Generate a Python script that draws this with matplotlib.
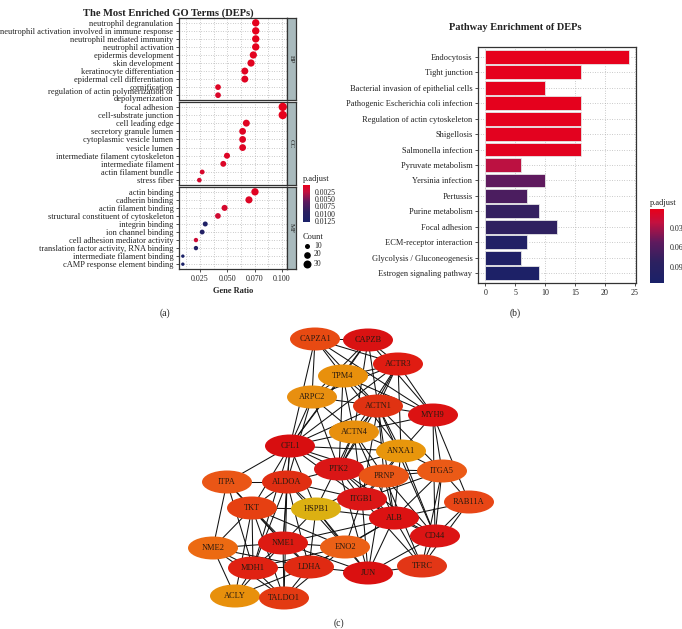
import matplotlib
matplotlib.use('Agg')
import matplotlib.pyplot as plt
from matplotlib.colors import LinearSegmentedColormap, Normalize
from matplotlib.patches import Ellipse
import matplotlib.colorbar as mcb

plt.rcParams['font.family'] = ['Liberation Serif', 'DejaVu Serif']

W, H = 682, 629

# ---------------- (a) GO terms ----------------
bp_terms = ['neutrophil degranulation', 'neutrophil activation involved in immune response',
            'neutrophil mediated immunity', 'neutrophil activation', 'epidermis development',
            'skin development', 'keratinocyte differentiation', 'epidermal cell differentiation',
            'cornification', 'regulation of actin polymerization or\ndepolymerization']
bp_ratio = [0.076, 0.076, 0.076, 0.076, 0.0738, 0.0717, 0.066, 0.066, 0.0415, 0.0415]
bp_count = [25, 25, 25, 25, 24, 24, 22, 22, 14, 14]
bp_padj = [0.0005, 0.0005, 0.0005, 0.0005, 0.0006, 0.0007, 0.0008, 0.0008, 0.0010, 0.0012]

cc_terms = ['focal adhesion', 'cell-substrate junction', 'cell leading edge',
            'secretory granule lumen', 'cytoplasmic vesicle lumen', 'vesicle lumen',
            'intermediate filament cytoskeleton', 'intermediate filament',
            'actin filament bundle', 'stress fiber']
cc_ratio = [0.1007, 0.1007, 0.0674, 0.064, 0.064, 0.064, 0.0497, 0.0463, 0.027, 0.0244]
cc_count = [33, 33, 22, 21, 21, 21, 16, 15, 9, 8]
cc_padj = [0.0004, 0.0004, 0.0008, 0.0009, 0.0009, 0.0009, 0.0010, 0.0011, 0.0014, 0.0016]

mf_terms = ['actin binding', 'cadherin binding', 'actin filament binding',
            'structural constituent of cytoskeleton', 'integrin binding', 'ion channel binding',
            'cell adhesion mediator activity', 'translation factor activity, RNA binding',
            'intermediate filament binding', 'cAMP response element binding']
mf_ratio = [0.0753, 0.0698, 0.0475, 0.0414, 0.0298, 0.027, 0.0213, 0.0213, 0.0093, 0.0093]
mf_count = [25, 23, 16, 14, 10, 9, 7, 7, 3, 3]
mf_padj = [0.0008, 0.0010, 0.0015, 0.0018, 0.0115, 0.0110, 0.0020, 0.0112, 0.0125, 0.0125]

ratio_ticks = [0.025, 0.050, 0.075, 0.100]
ratio_ticklabels = ['0.025', '0.050', '0.070', '0.100']
padj_a_ticks = [0.0025, 0.0050, 0.0075, 0.0100, 0.0125]
count_legend = [10, 20, 30]

# ---------------- (b) KEGG pathways ----------------
pathways = ['Endocytosis', 'Tight junction', 'Bacterial invasion of epithelial cells',
            'Pathogenic Escherichia coli infection', 'Regulation of actin cytoskeleton',
            'Shigellosis', 'Salmonella infection', 'Pyruvate metabolism', 'Yersinia infection',
            'Pertussis', 'Purine metabolism', 'Focal adhesion', 'ECM-receptor interaction',
            'Glycolysis / Gluconeogenesis', 'Estrogen signaling pathway']
path_count = [24, 16, 10, 16, 16, 16, 16, 6, 10, 7, 9, 12, 7, 6, 9]
path_padj = [0.002, 0.003, 0.003, 0.003, 0.003, 0.004, 0.004, 0.024, 0.052, 0.064,
             0.078, 0.081, 0.101, 0.104, 0.109]
padj_b_ticks = [0.03, 0.06, 0.09]

# ---------------- (c) PPI network ----------------
nodes = ['CAPZA1', 'CAPZB', 'ACTR3', 'TPM4', 'ARPC2', 'ACTN1', 'MYH9', 'ACTN4', 'CFL1',
         'ANXA1', 'PTK2', 'PRNP', 'ITGA5', 'ITPA', 'ALDOA', 'ITGB1', 'RAB11A', 'TKT',
         'HSPB1', 'ALB', 'CD44', 'NME2', 'NME1', 'ENO2', 'MDH1', 'LDHA', 'JUN', 'TFRC',
         'ACLY', 'TALDO1']
node_x = [315, 368, 398, 343, 312, 378, 433, 354, 290, 401, 339, 384, 442, 227, 287,
          362, 469, 252, 316, 394, 435, 213, 283, 345, 253, 309, 368, 422, 235, 284]
node_y = [339, 340, 364, 376, 397, 406, 415, 432, 446, 451, 469, 476, 471, 482, 482,
          499, 502, 508, 509, 518, 536, 548, 543, 547, 568, 567, 573, 566, 596, 598]
node_colors = ['#e84a12', '#d91212', '#e01c12', '#e8900c', '#e88f10', '#e03212', '#dc1212',
               '#e8900e', '#d80e10', '#e8960c', '#da1616', '#ea5616', '#eb5a16', '#ea5616',
               '#e02e12', '#db1616', '#e84616', '#e64012', '#dcb012', '#dc1212', '#dc1414',
               '#ec6a12', '#dd1a12', '#eb6016', '#e02212', '#e02a12', '#da1010', '#e23616',
               '#e8900c', '#e33a12']
edges = [
    ('CAPZA1', 'CAPZB'), ('CAPZA1', 'ARPC2'), ('CAPZA1', 'CFL1'), ('CAPZA1', 'TPM4'),
    ('CAPZA1', 'ACTR3'), ('CAPZA1', 'ACTN1'), ('CAPZA1', 'MYH9'),
    ('CAPZB', 'TPM4'), ('CAPZB', 'ACTN1'), ('CAPZB', 'ACTR3'), ('CAPZB', 'ARPC2'),
    ('CAPZB', 'ACTN4'), ('CAPZB', 'CFL1'), ('CAPZB', 'MYH9'),
    ('ACTR3', 'TPM4'), ('ACTR3', 'ARPC2'), ('ACTR3', 'ACTN1'), ('ACTR3', 'ACTN4'),
    ('ACTR3', 'MYH9'), ('ACTR3', 'CFL1'), ('ACTR3', 'PTK2'), ('ACTR3', 'ANXA1'),
    ('TPM4', 'ACTN1'), ('TPM4', 'ARPC2'), ('TPM4', 'ACTN4'), ('TPM4', 'CFL1'),
    ('TPM4', 'MYH9'), ('TPM4', 'ANXA1'), ('TPM4', 'PTK2'),
    ('ARPC2', 'CFL1'), ('ARPC2', 'ACTN1'), ('ARPC2', 'ACTN4'), ('ARPC2', 'PTK2'),
    ('ARPC2', 'ALDOA'),
    ('ACTN1', 'MYH9'), ('ACTN1', 'ACTN4'), ('ACTN1', 'CFL1'), ('ACTN1', 'PTK2'),
    ('ACTN1', 'ANXA1'), ('ACTN1', 'ITGB1'), ('ACTN1', 'PRNP'), ('ACTN1', 'ITGA5'),
    ('ACTN1', 'ALB'), ('ACTN1', 'CD44'),
    ('MYH9', 'ACTN4'), ('MYH9', 'ITGA5'), ('MYH9', 'ANXA1'), ('MYH9', 'CD44'),
    ('MYH9', 'RAB11A'),
    ('ACTN4', 'CFL1'), ('ACTN4', 'ANXA1'), ('ACTN4', 'PTK2'), ('ACTN4', 'PRNP'),
    ('ACTN4', 'ITGB1'), ('ACTN4', 'ALB'), ('ACTN4', 'HSPB1'),
    ('CFL1', 'PTK2'), ('CFL1', 'ALDOA'), ('CFL1', 'ANXA1'), ('CFL1', 'ITGB1'),
    ('CFL1', 'TKT'), ('CFL1', 'ITPA'), ('CFL1', 'NME1'), ('CFL1', 'HSPB1'),
    ('CFL1', 'MDH1'), ('CFL1', 'PRNP'),
    ('ANXA1', 'PRNP'), ('ANXA1', 'ITGA5'), ('ANXA1', 'ALB'), ('ANXA1', 'CD44'),
    ('ANXA1', 'ITGB1'), ('ANXA1', 'PTK2'),
    ('PTK2', 'PRNP'), ('PTK2', 'ITGB1'), ('PTK2', 'ALDOA'), ('PTK2', 'ITGA5'),
    ('PTK2', 'JUN'), ('PTK2', 'CD44'), ('PTK2', 'ALB'),
    ('PRNP', 'ITGB1'), ('PRNP', 'ALB'), ('PRNP', 'CD44'), ('PRNP', 'HSPB1'),
    ('PRNP', 'ITGA5'), ('PRNP', 'TFRC'), ('PRNP', 'JUN'),
    ('ITGA5', 'ITGB1'), ('ITGA5', 'ALB'), ('ITGA5', 'CD44'), ('ITGA5', 'RAB11A'),
    ('ITGA5', 'TFRC'),
    ('ITPA', 'ALDOA'), ('ITPA', 'TKT'), ('ITPA', 'NME1'), ('ITPA', 'NME2'),
    ('ITPA', 'MDH1'),
    ('ALDOA', 'TKT'), ('ALDOA', 'NME1'), ('ALDOA', 'HSPB1'), ('ALDOA', 'ENO2'),
    ('ALDOA', 'LDHA'), ('ALDOA', 'MDH1'), ('ALDOA', 'TALDO1'), ('ALDOA', 'ITGB1'),
    ('ITGB1', 'ALB'), ('ITGB1', 'CD44'), ('ITGB1', 'HSPB1'), ('ITGB1', 'JUN'),
    ('ITGB1', 'TFRC'), ('ITGB1', 'ENO2'),
    ('RAB11A', 'CD44'), ('RAB11A', 'TFRC'), ('RAB11A', 'ALB'),
    ('TKT', 'NME1'), ('TKT', 'NME2'), ('TKT', 'MDH1'), ('TKT', 'LDHA'),
    ('TKT', 'TALDO1'), ('TKT', 'ACLY'), ('TKT', 'HSPB1'), ('TKT', 'ENO2'),
    ('HSPB1', 'ALB'), ('HSPB1', 'NME1'), ('HSPB1', 'ENO2'), ('HSPB1', 'JUN'),
    ('HSPB1', 'LDHA'),
    ('ALB', 'CD44'), ('ALB', 'JUN'), ('ALB', 'TFRC'), ('ALB', 'ENO2'),
    ('ALB', 'LDHA'), ('ALB', 'NME1'),
    ('CD44', 'JUN'), ('CD44', 'TFRC'),
    ('NME2', 'NME1'), ('NME2', 'MDH1'), ('NME2', 'ACLY'), ('NME2', 'LDHA'),
    ('NME2', 'TALDO1'),
    ('NME1', 'ENO2'), ('NME1', 'MDH1'), ('NME1', 'LDHA'), ('NME1', 'TALDO1'),
    ('NME1', 'ACLY'), ('NME1', 'JUN'),
    ('ENO2', 'LDHA'), ('ENO2', 'JUN'), ('ENO2', 'MDH1'), ('ENO2', 'TALDO1'),
    ('MDH1', 'LDHA'), ('MDH1', 'ACLY'), ('MDH1', 'TALDO1'),
    ('LDHA', 'JUN'), ('LDHA', 'TALDO1'), ('LDHA', 'ACLY'),
    ('JUN', 'TFRC'), ('ACLY', 'TALDO1'),
]

cmap = LinearSegmentedColormap.from_list(
    'padj', [(0, '#e8001a'), (0.18, '#c4103f'), (0.45, '#5e1a5e'),
             (0.72, '#2c2160'), (1, '#1a2169')])
TXT = '#222222'
FRAME = '#333333'
GRID = dict(color='#9a9a9a', lw=0.5, ls=(0, (1, 2.5)))


def box(x0, y0, x1, y1):
    return [x0 / W, 1 - y1 / H, (x1 - x0) / W, (y1 - y0) / H]


def dot_size(c):
    return 3 + 1.0 * c


fig = plt.figure(figsize=(W / 100, H / 100), dpi=100)

# overlay in pixel coordinates: network + legend bits
ov = fig.add_axes([0, 0, 1, 1])
ov.set_xlim(0, W)
ov.set_ylim(H, 0)
ov.axis('off')

# ---- panel (a)
norm_a = Normalize(0.0003, 0.0127)
facets = [('BP', bp_terms, bp_ratio, bp_count, bp_padj, 18, 100),
          ('CC', cc_terms, cc_ratio, cc_count, cc_padj, 102, 185),
          ('MF', mf_terms, mf_ratio, mf_count, mf_padj, 187, 269)]
for k, (name, terms, ratio, count, padj, top, bot) in enumerate(facets):
    ax = fig.add_axes(box(179, top, 287, bot))
    ax.scatter(ratio, range(len(terms)), s=[dot_size(c) for c in count], c=padj,
               cmap=cmap, norm=norm_a, linewidths=0, zorder=3)
    ax.set_xlim(0.0058, 0.1046)
    ax.set_ylim(len(terms) - 0.4, -0.6)
    ax.set_yticks(range(len(terms)))
    ax.set_yticklabels(terms, fontsize=6.0, color=TXT, linespacing=0.85)
    ax.set_xticks(ratio_ticks)
    ax.set_xticks([0.0125, 0.0375, 0.0625, 0.0875], minor=True)
    ax.grid(which='both', axis='x', **GRID)
    ax.grid(which='major', axis='y', **GRID)
    ax.tick_params(axis='y', length=2.5, width=0.6, pad=1.5, color=FRAME)
    ax.tick_params(axis='x', which='minor', length=0)
    if k < 2:
        ax.tick_params(axis='x', length=0, labelbottom=False)
    else:
        ax.set_xticklabels(ratio_ticklabels, fontsize=5.8, color=TXT)
        ax.tick_params(axis='x', length=2.5, width=0.6, pad=2, color=FRAME)
        ax.set_xlabel('Gene Ratio', fontsize=6, fontweight='bold', labelpad=3, color=TXT)
    for s in ax.spines.values():
        s.set_color(FRAME)
        s.set_linewidth(0.9)
    st = fig.add_axes(box(287, top, 296, bot))
    st.set_facecolor('#a9babd')
    st.set_xticks([])
    st.set_yticks([])
    for s in st.spines.values():
        s.set_color(FRAME)
        s.set_linewidth(0.9)
    st.text(0.5, 0.5, name, rotation=-90, ha='center', va='center', fontsize=5,
            color=TXT, transform=st.transAxes)

fig.text(168 / W, 1 - 13 / H, 'The Most Enriched GO Terms (DEPs)', ha='center',
         va='center', fontsize=7.6, fontweight='bold', color=TXT)

cax_a = fig.add_axes(box(303, 185, 310, 222))
cb_a = mcb.ColorbarBase(cax_a, cmap=cmap, norm=norm_a, orientation='vertical')
cax_a.invert_yaxis()
cb_a.set_ticks(padj_a_ticks)
cb_a.set_ticklabels(['%.4f' % t for t in padj_a_ticks])
cb_a.outline.set_visible(False)
cax_a.tick_params(length=1.5, width=0.5, color='white', labelsize=5.6, pad=2,
                  labelcolor=TXT)
ov.text(303, 179, 'p.adjust', fontsize=6, ha='left', va='center', color=TXT)

ov.text(303, 237, 'Count', fontsize=6, ha='left', va='center', color=TXT)
for c, yy in zip(count_legend, [246, 254.5, 263.5]):
    ov.scatter([307], [yy], s=dot_size(c), color='black', linewidths=0)
    ov.text(314, yy, str(c), fontsize=5.6, ha='left', va='center', color=TXT)

ov.text(165, 313, '(a)', fontsize=7, ha='center', va='center', color=TXT)

# ---- panel (b)
norm_b = Normalize(0.001, 0.115)
axb = fig.add_axes(box(478, 47, 636, 283))
yb = list(range(len(pathways)))
axb.barh(yb, path_count, height=0.9, color=cmap(norm_b(path_padj)),
         edgecolor='#e6e6e6', linewidth=0.6, zorder=3)
axb.set_xlim(-1.22, 25.2)
axb.set_ylim(len(pathways) - 0.37, -0.63)
axb.set_yticks(yb)
axb.set_yticklabels(pathways, fontsize=6.0, color=TXT)
axb.set_xticks([0, 5, 10, 15, 20, 25])
axb.tick_params(axis='x', labelsize=5.8, length=2.5, width=0.6, pad=2, color=FRAME,
                labelcolor=TXT)
axb.tick_params(axis='y', length=2.5, width=0.6, pad=1.5, color=FRAME)
axb.grid(axis='both', **GRID)
for s in axb.spines.values():
    s.set_color(FRAME)
    s.set_linewidth(0.9)
fig.text(515 / W, 1 - 28 / H, 'Pathway Enrichment of DEPs', ha='center', va='center',
         fontsize=7.5, fontweight='bold', color=TXT)

cax_b = fig.add_axes(box(650, 209, 664, 283))
cb_b = mcb.ColorbarBase(cax_b, cmap=cmap, norm=norm_b, orientation='vertical')
cax_b.invert_yaxis()
cb_b.set_ticks(padj_b_ticks)
cb_b.set_ticklabels(['%.2f' % t for t in padj_b_ticks])
cb_b.outline.set_visible(False)
cax_b.tick_params(length=2, width=0.5, color='white', labelsize=5.8, pad=2,
                  labelcolor=TXT)
ov.text(650, 203, 'p.adjust', fontsize=6, ha='left', va='center', color=TXT)
ov.text(515, 313, '(b)', fontsize=7, ha='center', va='center', color=TXT)

# ---- panel (c)
pos = {n: (x, y) for n, x, y in zip(nodes, node_x, node_y)}
for a, b in edges:
    ov.plot([pos[a][0], pos[b][0]], [pos[a][1], pos[b][1]], color='#111111', lw=0.75,
            zorder=1)
for n, col in zip(nodes, node_colors):
    ov.add_patch(Ellipse(pos[n], 50, 23, facecolor=col, edgecolor='none', zorder=2))
    ov.text(pos[n][0], pos[n][1], n, fontsize=6, ha='center', va='center',
            color='#2a1a10', zorder=3)
ov.text(339, 623, '(c)', fontsize=7, ha='center', va='center', color=TXT)

fig.savefig('out.png', dpi=100)
